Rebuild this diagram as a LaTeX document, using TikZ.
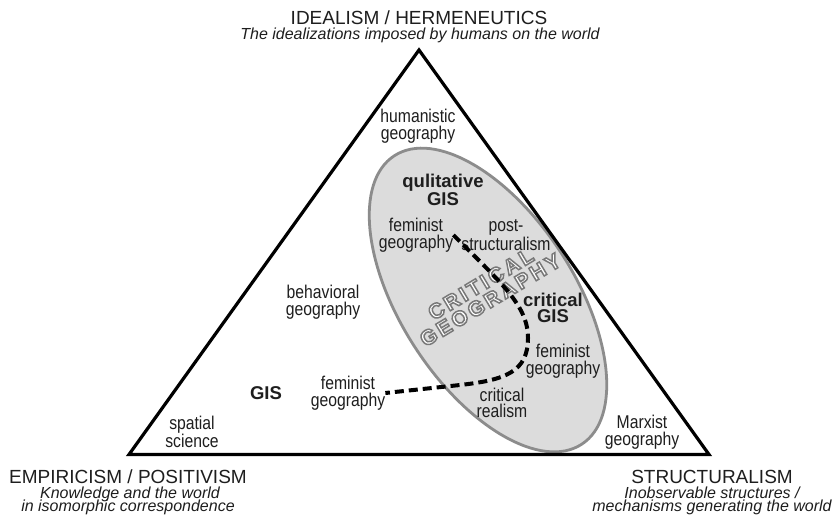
\documentclass[tikz,border=0pt]{standalone}
\usepackage{fontspec}
\setmainfont{Liberation Sans}
\newfontfamily\narrowfont{Liberation Sans}[FakeStretch=0.85]
\newfontfamily\spacedfont{Liberation Sans}[LetterSpace=14]
\usetikzlibrary{shapes.geometric,calc}
\definecolor{ink}{HTML}{1E1E1E}
\definecolor{cgfill}{HTML}{DCDCDC}
\definecolor{cgline}{HTML}{8C8C8C}
% outlined lettering: fill in white, stroke in grey, then back to normal text
\newcommand\outlineon{\special{pdf:literal direct 2 Tr 1.5 w 0.47 G 1 g}}
\newcommand\outlineoff{\special{pdf:literal direct 0 Tr 0 g 0 G}}
\tikzset{
  lbl/.style={font=\narrowfont\fontsize{18.5}{16.7}\selectfont, align=center, inner sep=0pt, text=ink},
  blbl/.style={font=\bfseries\fontsize{18.5}{16.7}\selectfont, align=center, inner sep=0pt, text=ink},
  head/.style={font=\fontsize{19}{19}\selectfont, anchor=base, inner sep=0pt, text=ink},
  sub/.style={font=\itshape\fontsize{16}{16}\selectfont, anchor=base, inner sep=0pt, text=ink},
  tri/.style={draw=black, line width=3.2pt},
  zone/.style={ellipse, draw=cgline, fill=cgfill, line width=2.8pt, inner sep=0pt,
    minimum width=344pt, minimum height=174pt, rotate=-57},
  outl/.style={font=\spacedfont\bfseries\fontsize{21}{18.5}\selectfont, align=center,
    inner sep=0pt, rotate=31},
  trail/.style={draw=black, line width=4pt, dash pattern=on 9pt off 5pt}
}
\begin{document}
\begin{tikzpicture}[x=1pt,y=-1pt]
\useasboundingbox[fill=white] (0,0) rectangle (837,516);

% shaded zone of critical geography
\node[zone] (cg) at (488,300) {};

% outlined title inside the zone
\node[outl] (cgt) at (485.5,292) {\outlineon CRITICAL\\GEOGRAPHY\outlineoff};

% the triangle of positions
\coordinate (bl) at (129,454.5);
\coordinate (apex) at (419,50);
\coordinate (br) at (709,454.5);
\draw[tri] (bl) -- (apex) -- (br) -- cycle;

% corner headings
\node[head] (ideal) at (419,25) {IDEALISM / HERMENEUTICS};
\node[sub] (idealsub) at (420,39.5) {The idealizations imposed by humans on the world};
\node[head] (emp) at (128,483) {EMPIRICISM / POSITIVISM};
\node[sub] (empa) at (130,498) {Knowledge and the world};
\node[sub] (empb) at (128,511.5) {in isomorphic correspondence};
\node[head] (struc) at (712,483) {STRUCTURALISM};
\node[sub] (struca) at (712,498) {Inobservable structures /};
\node[sub] (strucb) at (712,511.5) {mechanisms generating the world};

% approaches inside the triangle
\node[lbl] (hum) at (418,126) {humanistic\\geography};
\node[blbl] (qgis) at (443,190) {qulitative\\GIS};
\node[lbl] (fema) at (416,235) {feminist\\geography};
\node[lbl] (post) at (506,235) {post-\\structuralism};
\node[blbl] (cgis) at (553,308) {critical\\GIS};
\node[lbl] (femb) at (563,361) {feminist\\geography};
\node[lbl] (real) at (502,403) {critical\\realism};
\node[lbl] (beh) at (323,302) {behavioral\\geography};
\node[blbl] (gis) at (266,393) {GIS};
\node[lbl] (femc) at (348,393) {feminist\\geography};
\node[lbl] (spat) at (192,432) {spatial\\science};
\node[lbl] (marx) at (642,432) {Marxist\\geography};

% path of feminist geography across the field
\draw[trail] (fema.east) .. controls (500,282) and (528,305) .. (528,338)
  .. controls (528,372) and (505,380) .. (460,385) -- (femc.east);
\end{tikzpicture}
\end{document}
